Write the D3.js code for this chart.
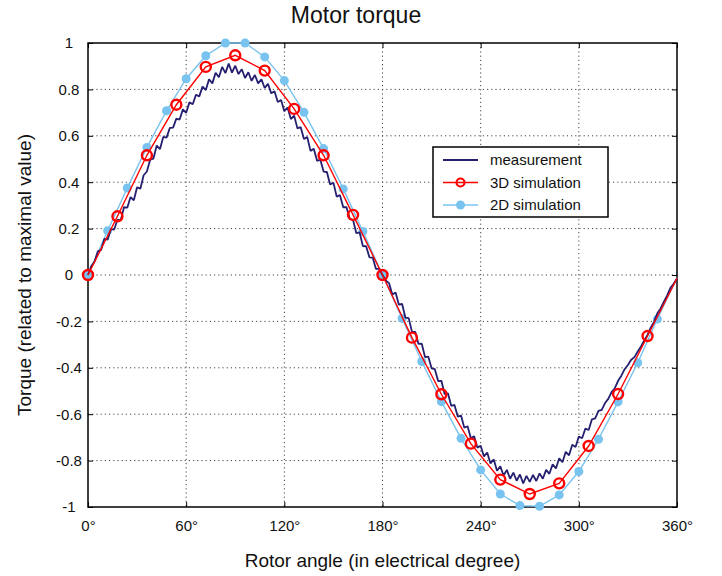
<!DOCTYPE html>
<html>
<head>
<meta charset="utf-8">
<script src="https://cdn.jsdelivr.net/npm/d3@7"></script>
<style>
  body { margin: 0; background: #fff; }
  svg text { font-family: "Liberation Sans", Arial, sans-serif; fill: #111; }
</style>
</head>
<body>
<svg id="chart" width="722" height="576"></svg>
<script>
const width = 722;
const height = 576;
const svg = d3.select("#chart");

// data
const xTicks = [0, 60, 120, 180, 240, 300, 360];
const yTicks = [-1, -0.8, -0.6, -0.4, -0.2, 0, 0.2, 0.4, 0.6, 0.8, 1];

// measurement, one value every 2 degrees
const measureAngles = d3.range(0, 361, 2);
const measureValues = [
    0.000, 0.038, 0.058, 0.102, 0.108, 0.156, 0.152, 0.198, 0.196, 0.238,
    0.236, 0.292, 0.290, 0.336, 0.322, 0.378, 0.372, 0.430, 0.446, 0.497,
    0.502, 0.558, 0.543, 0.595, 0.592, 0.634, 0.635, 0.674, 0.670, 0.714,
    0.699, 0.744, 0.736, 0.777, 0.770, 0.812, 0.797, 0.844, 0.826, 0.872,
    0.852, 0.897, 0.870, 0.911, 0.872, 0.902, 0.866, 0.887, 0.849, 0.874,
    0.837, 0.862, 0.826, 0.844, 0.806, 0.824, 0.783, 0.792, 0.746, 0.754,
    0.706, 0.722, 0.672, 0.687, 0.632, 0.637, 0.586, 0.595, 0.535, 0.544,
    0.492, 0.497, 0.446, 0.444, 0.390, 0.398, 0.338, 0.344, 0.292, 0.292,
    0.242, 0.237, 0.180, 0.184, 0.125, 0.124, 0.076, 0.075, 0.026, 0.027,
    0.000, -0.024, -0.035, -0.084, -0.075, -0.128, -0.125, -0.184, -0.186, -0.244,
    -0.245, -0.297, -0.296, -0.354, -0.352, -0.402, -0.406, -0.457, -0.456, -0.514,
    -0.510, -0.564, -0.560, -0.610, -0.606, -0.658, -0.652, -0.704, -0.695, -0.744,
    -0.736, -0.782, -0.765, -0.812, -0.795, -0.844, -0.825, -0.864, -0.840, -0.878,
    -0.852, -0.887, -0.860, -0.898, -0.866, -0.892, -0.862, -0.888, -0.855, -0.878,
    -0.840, -0.857, -0.816, -0.834, -0.790, -0.807, -0.762, -0.777, -0.732, -0.741,
    -0.696, -0.704, -0.662, -0.668, -0.622, -0.618, -0.586, -0.581, -0.552, -0.534,
    -0.505, -0.488, -0.456, -0.434, -0.406, -0.388, -0.365, -0.354, -0.330, -0.308,
    -0.282, -0.258, -0.226, -0.202, -0.165, -0.144, -0.115, -0.088, -0.055, -0.038,
    -0.015];

// 3D simulation, every 18 degrees
const sim3dAngles = d3.range(0, 361, 18);
const sim3dValues = [0, 0.253, 0.516, 0.734, 0.897, 0.947, 0.881, 0.716, 0.516, 0.259,
    0, -0.27, -0.514, -0.727, -0.882, -0.944, -0.898, -0.737, -0.513, -0.263, -0.014];

// 2D simulation, every 12 degrees
const sim2dAngles = d3.range(0, 361, 12);
const sim2dValues = [0, 0.191, 0.375, 0.55, 0.708, 0.846, 0.945, 1.0, 1.0, 0.94,
    0.838, 0.701, 0.545, 0.371, 0.188, 0, -0.187, -0.373, -0.546, -0.704,
    -0.84, -0.944, -0.994, -0.997, -0.948, -0.847, -0.708, -0.547, -0.378, -0.19, -0.012];

const navy = "#251f70";
const red = "#ff0000";
const lightBlue = "#78c3ef";

const plotLeft = 88, plotRight = 677, plotTop = 43, plotBottom = 507;

const x = d3.scaleLinear().domain([0, 360]).range([plotLeft, plotRight]);
const y = d3.scaleLinear().domain([-1, 1]).range([plotBottom, plotTop]);

// grid
const grid = svg.append("g")
    .attr("stroke", "#444")
    .attr("stroke-width", 1)
    .attr("stroke-dasharray", "1.2,3");

grid.selectAll(".vgrid")
    .data(xTicks.slice(1, -1))
    .enter()
    .append("line")
    .attr("x1", d => x(d))
    .attr("x2", d => x(d))
    .attr("y1", plotTop)
    .attr("y2", plotBottom);

grid.selectAll(".hgrid")
    .data(yTicks.slice(1, -1))
    .enter()
    .append("line")
    .attr("x1", plotLeft)
    .attr("x2", plotRight)
    .attr("y1", d => y(d))
    .attr("y2", d => y(d));

// axes with inward ticks
svg.append("g")
    .attr("transform", "translate(0," + plotBottom + ")")
    .call(d3.axisBottom(x).tickValues(xTicks).tickSizeInner(-5).tickSizeOuter(0)
        .tickPadding(13).tickFormat(d => d + "°"));

const yAxis = svg.append("g")
    .attr("transform", "translate(" + plotLeft + ",0)")
    .call(d3.axisLeft(y).tickValues(yTicks).tickSizeInner(-5).tickSizeOuter(0)
        .tickFormat(d => String(+d.toFixed(1))));

yAxis.selectAll("text")
    .attr("text-anchor", "middle")
    .attr("x", -19);

svg.append("g")
    .attr("transform", "translate(0," + plotTop + ")")
    .call(d3.axisTop(x).tickValues(xTicks).tickSizeInner(-5).tickSizeOuter(0).tickFormat(""));

svg.append("g")
    .attr("transform", "translate(" + plotRight + ",0)")
    .call(d3.axisRight(y).tickValues(yTicks).tickSizeInner(-5).tickSizeOuter(0).tickFormat(""));

svg.selectAll(".tick text")
    .style("font-size", "15px")
    .style("font-family", "'Liberation Sans', Arial, sans-serif")
    .attr("fill", "#111");

svg.selectAll(".tick line").attr("stroke", "#000");
svg.selectAll(".domain").remove();

// frame
svg.append("rect")
    .attr("x", plotLeft)
    .attr("y", plotTop)
    .attr("width", plotRight - plotLeft)
    .attr("height", plotBottom - plotTop)
    .attr("fill", "none")
    .attr("stroke", "#000")
    .attr("stroke-width", 1.5);

// series
const line = d3.line()
    .x(d => x(d[0]))
    .y(d => y(d[1]));

const sim2d = d3.zip(sim2dAngles, sim2dValues);
const sim3d = d3.zip(sim3dAngles, sim3dValues);
const measure = d3.zip(measureAngles, measureValues);

svg.append("path")
    .datum(sim2d)
    .attr("d", line)
    .attr("fill", "none")
    .attr("stroke", lightBlue)
    .attr("stroke-width", 1.4);

svg.append("g")
    .selectAll("circle")
    .data(sim2d.slice(0, -1))
    .enter()
    .append("circle")
    .attr("cx", d => x(d[0]))
    .attr("cy", d => y(d[1]))
    .attr("r", 4.5)
    .attr("fill", lightBlue);

svg.append("path")
    .datum(measure)
    .attr("d", line)
    .attr("fill", "none")
    .attr("stroke", navy)
    .attr("stroke-width", 1.8)
    .attr("stroke-linejoin", "bevel");

svg.append("path")
    .datum(sim3d)
    .attr("d", line)
    .attr("fill", "none")
    .attr("stroke", red)
    .attr("stroke-width", 1.4);

svg.append("g")
    .selectAll("circle")
    .data(sim3d.slice(0, -1))
    .enter()
    .append("circle")
    .attr("cx", d => x(d[0]))
    .attr("cy", d => y(d[1]))
    .attr("r", 5)
    .attr("fill", "none")
    .attr("stroke", red)
    .attr("stroke-width", 2.4);

// titles
svg.append("text")
    .attr("x", 356)
    .attr("y", 23)
    .attr("text-anchor", "middle")
    .style("font-size", "23px")
    .text("Motor torque");

svg.append("text")
    .attr("x", (plotLeft + plotRight) / 2)
    .attr("y", 567)
    .attr("text-anchor", "middle")
    .style("font-size", "19px")
    .text("Rotor angle (in electrical degree)");

svg.append("text")
    .attr("transform", "translate(31," + ((plotTop + plotBottom) / 2) + ") rotate(-90)")
    .attr("text-anchor", "middle")
    .style("font-size", "19px")
    .text("Torque (related to maximal value)");

// legend
const legendItems = [
    { label: "measurement", color: navy, marker: "none" },
    { label: "3D simulation", color: red, marker: "ring" },
    { label: "2D simulation", color: lightBlue, marker: "dot" }];

const legend = svg.append("g");
legend.append("rect")
    .attr("x", 433)
    .attr("y", 147)
    .attr("width", 175)
    .attr("height", 70)
    .attr("fill", "#fff")
    .attr("stroke", "#000")
    .attr("stroke-width", 1.5);

const rows = legend.selectAll(".row")
    .data(legendItems)
    .enter()
    .append("g")
    .attr("transform", (d, i) => "translate(0," + (160 + i * 22.5) + ")");

rows.append("line")
    .attr("x1", 443)
    .attr("x2", 478)
    .attr("stroke", d => d.color)
    .attr("stroke-width", d => d.marker == "none" ? 1.8 : 1.4);

rows.filter(d => d.marker == "ring")
    .append("circle")
    .attr("cx", 460.5)
    .attr("r", 4)
    .attr("fill", "none")
    .attr("stroke", red)
    .attr("stroke-width", 2.2);

rows.filter(d => d.marker == "dot")
    .append("circle")
    .attr("cx", 460.5)
    .attr("r", 4.5)
    .attr("fill", lightBlue);

rows.append("text")
    .attr("x", 490)
    .attr("y", 5)
    .style("font-size", "15px")
    .text(d => d.label);
</script>
</body>
</html>
